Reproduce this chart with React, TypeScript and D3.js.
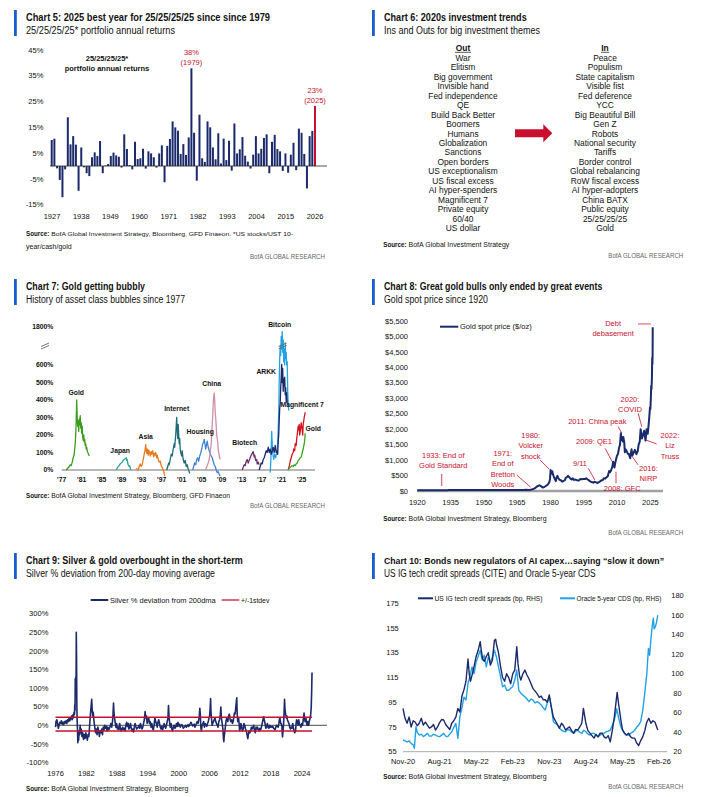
import * as d3 from "d3";

type Pt = [number, number];

const FONT = "'Liberation Sans Narrow', 'Arial Narrow', 'Liberation Sans', Arial, sans-serif";
const NAVY = "#1b2a6b";
const RED = "#c8102e";
const ACCENT = "#1a5dd0";
const SKY = "#22a2e4";
const INK = "#111";

// ---------- Chart 5: 25/25/25/25 annual returns ----------
const c5Years = d3.range(1927, 2026);
const c5Returns = [
  10.1, 10.6, -0.9, -5.4, -12.1, -1.3, 18.9, 8.4, 11.6, 8.3,
  -9.6, 7.2, -0.5, -2.8, -3.9, 3.4, 5.3, 3.9, 9.7, -2.8,
  0.2, 0.8, 3.9, 5.2, 4.1, 3.6, -0.6, 12.3, 6.6, 0.4,
  -1.3, 9.4, 2.7, 3.0, 6.7, -1.0, 5.7, 4.9, 3.4, -0.6,
  4.9, 8.0, -6.3, 7.8, 10.5, 17.3, 15.0, 13.7, 4.7, 8.5,
  4.3, 11.1, 37.9, 12.9, -5.7, 19.9, 3.0, 1.6, 17.3, 15.0,
  7.2, 2.6, 12.7, 1.0, 10.6, 2.3, 9.8, -1.8, 16.5, 4.9,
  6.5, 11.2, 4.0, 1.7, -1.0, 4.4, 11.6, 4.9, 6.7, 10.9,
  12.3, -2.8, 9.4, 12.1, 6.6, 5.7, -1.9, 4.9, -2.6, 4.4,
  9.0, -1.6, 14.5, 12.9, 4.7, -8.7, 11.6, 13.6, 23.3,
];
const c5YTicks = [45, 35, 25, 15, 5, -5, -15];
const c5XTicks = [1927, 1938, 1949, 1960, 1971, 1982, 1993, 2004, 2015, 2026];

// ---------- Chart 6: ins and outs ----------
const c6Out = [
  "War", "Elitism", "Big government", "Invisible hand", "Fed independence", "QE",
  "Build Back Better", "Boomers", "Humans", "Globalization", "Sanctions", "Open borders",
  "US exceptionalism", "US fiscal excess", "AI hyper-spenders", "Magnificent 7",
  "Private equity", "60/40", "US dollar",
];
const c6In = [
  "Peace", "Populism", "State capitalism", "Visible fist", "Fed deference", "YCC",
  "Big Beautiful Bill", "Gen Z", "Robots", "National security", "Tariffs", "Border control",
  "Global rebalancing", "RoW fiscal excess", "AI hyper-adopters", "China BATX",
  "Public equity", "25/25/25/25", "Gold",
];

// ---------- Chart 7: bubbles ----------
const c7Gold80: Pt[] = [[1977.9,0],[1978.2,10],[1978.5,20],[1978.7,30],[1978.9,25],[1979.1,45],[1979.3,70],[1979.5,90],[1979.6,120],[1979.7,150],[1979.8,200],[1979.9,280],[1980.0,400],[1980.1,300],[1980.2,250],[1980.3,280],[1980.4,220],[1980.5,290],[1980.6,260],[1980.7,310],[1980.8,240],[1980.9,270],[1981.0,210],[1981.1,250],[1981.2,190],[1981.3,170],[1981.4,200],[1981.5,160],[1981.6,175],[1981.7,140],[1981.8,150],[1981.9,120],[1982.0,130],[1982.1,110],[1982.3,95],[1982.5,80]];
const c7Japan: Pt[] = [[1987.9,0],[1988.1,10],[1988.3,20],[1988.5,25],[1988.7,35],[1988.9,40],[1989.1,45],[1989.3,55],[1989.5,60],[1989.7,65],[1989.9,70],[1990.0,55],[1990.1,60],[1990.2,40],[1990.3,30],[1990.5,20],[1990.6,25],[1990.8,0]];
const c7Asia: Pt[] = [[1991.9,10],[1992.1,5],[1992.3,0],[1992.5,20],[1992.7,35],[1992.9,20],[1993.1,30],[1993.3,60],[1993.5,90],[1993.7,120],[1993.8,145],[1993.9,110],[1994.0,95],[1994.1,120],[1994.3,85],[1994.4,115],[1994.6,100],[1994.7,80],[1994.9,105],[1995.0,90],[1995.2,110],[1995.4,75],[1995.5,95],[1995.7,85],[1995.8,100],[1996.0,70],[1996.1,85],[1996.3,60],[1996.5,45],[1996.7,50],[1996.9,25],[1997.1,15],[1997.3,0],[1997.5,-20],[1997.6,-35]];
const c7Internet: Pt[] = [[1998.0,0],[1998.2,20],[1998.4,40],[1998.5,30],[1998.7,60],[1998.9,90],[1999.1,80],[1999.3,120],[1999.5,150],[1999.6,130],[1999.8,200],[2000.0,300],[2000.1,230],[2000.2,180],[2000.3,260],[2000.4,200],[2000.5,150],[2000.6,180],[2000.7,120],[2000.8,100],[2001.0,80],[2001.1,110],[2001.3,60],[2001.5,40],[2001.7,55],[2001.9,20],[2002.1,30],[2002.3,5],[2002.5,-10],[2002.6,-20]];
const c7Housing: Pt[] = [[2003.2,0],[2003.4,20],[2003.6,40],[2003.8,30],[2004.0,60],[2004.2,70],[2004.4,50],[2004.6,80],[2004.8,95],[2005.0,120],[2005.2,150],[2005.4,160],[2005.5,175],[2005.7,140],[2005.8,120],[2006.0,150],[2006.1,165],[2006.3,130],[2006.5,110],[2006.7,95],[2006.9,80],[2007.1,70],[2007.3,50],[2007.5,30],[2007.7,20],[2007.9,0],[2008.1,-15],[2008.3,-10],[2008.5,-25],[2008.7,-35]];
const c7China: Pt[] = [[2005.7,0],[2005.9,10],[2006.1,25],[2006.3,40],[2006.5,60],[2006.7,100],[2006.9,150],[2007.0,200],[2007.1,260],[2007.2,300],[2007.3,380],[2007.4,420],[2007.5,440],[2007.6,400],[2007.7,330],[2007.8,300],[2007.9,250],[2008.0,200],[2008.2,160],[2008.3,120],[2008.5,80],[2008.7,60]];
const c7Biotech: Pt[] = [[2013.1,0],[2013.3,15],[2013.5,30],[2013.7,25],[2013.9,50],[2014.1,60],[2014.3,40],[2014.5,55],[2014.7,70],[2014.9,85],[2015.1,95],[2015.3,105],[2015.5,75],[2015.6,85],[2015.8,55],[2016.0,60],[2016.1,35],[2016.3,45],[2016.5,30]];
const c7Arkk: Pt[] = [[2016.5,0],[2016.7,20],[2016.9,40],[2017.1,35],[2017.3,60],[2017.5,70],[2017.7,90],[2017.9,110],[2018.1,100],[2018.3,130],[2018.5,100],[2018.7,120],[2018.9,90],[2019.1,110],[2019.3,130],[2019.5,100],[2019.7,140],[2019.9,100],[2020.1,110],[2020.2,90],[2020.3,160],[2020.4,200],[2020.5,280],[2020.6,350],[2020.7,380],[2020.8,470],[2020.9,530],[2021.0,620],[2021.1,500],[2021.2,580],[2021.3,450],[2021.4,520],[2021.5,480],[2021.6,530],[2021.7,430],[2021.8,470],[2021.9,390],[2022.0,440],[2022.1,380]];
const c7Bitcoin: Pt[] = [[2018.7,-15],[2018.8,40],[2018.9,120],[2019.0,220],[2019.1,150],[2019.2,100],[2019.4,60],[2019.6,90],[2019.8,70],[2020.0,100],[2020.2,150],[2020.4,320],[2020.5,500],[2020.6,800],[2020.7,1200],[2020.8,900],[2020.9,1500],[2021.0,1100],[2021.1,1650],[2021.2,1000],[2021.3,1400],[2021.4,700],[2021.5,1100],[2021.6,600],[2021.7,1300],[2021.8,800],[2021.9,1000],[2022.0,600],[2022.1,700],[2022.2,450],[2022.3,380],[2022.4,340]];
const c7Mag7: Pt[] = [[2022.3,0],[2022.5,20],[2022.7,50],[2022.8,60],[2023.0,80],[2023.1,90],[2023.3,100],[2023.4,120],[2023.6,110],[2023.7,150],[2023.9,140],[2024.0,180],[2024.1,200],[2024.3,250],[2024.4,230],[2024.5,260],[2024.6,200],[2024.7,220],[2024.9,270],[2025.0,250],[2025.1,230],[2025.2,200],[2025.3,260],[2025.5,300],[2025.7,330]];
const c7Gold25: Pt[] = [[2022.3,0],[2022.5,10],[2022.7,15],[2022.9,20],[2023.1,25],[2023.3,20],[2023.5,30],[2023.7,25],[2023.9,35],[2024.1,40],[2024.3,55],[2024.5,60],[2024.7,70],[2024.9,75],[2025.0,85],[2025.2,110],[2025.3,120],[2025.5,150],[2025.6,170],[2025.7,210]];
const c7YTicks = [0, 100, 200, 300, 400, 500, 600, 1800];
const c7XTicks = [1977, 1981, 1985, 1989, 1993, 1997, 2001, 2005, 2009, 2013, 2017, 2021, 2025];

// ---------- Chart 8: gold spot ----------
const c8Gold: Pt[] = [[1920,20.7],[1933.5,20.7],[1934.1,35],[1968,35],[1969,41],[1970,36],[1971,40],[1972,55],[1973,90],[1973.5,120],[1974,150],[1974.9,185],[1975.5,165],[1976.6,110],[1977.5,145],[1978.5,190],[1979,230],[1979.5,290],[1979.8,400],[1980.05,680],[1980.2,550],[1980.5,620],[1980.8,640],[1981,560],[1981.4,480],[1981.8,410],[1982.4,320],[1982.7,430],[1983.1,490],[1983.5,420],[1984,370],[1984.8,340],[1985.2,300],[1985.9,330],[1986.5,350],[1986.8,420],[1987.4,450],[1987.9,490],[1988.5,440],[1989,400],[1989.5,370],[1990,410],[1990.5,360],[1991,370],[1991.5,360],[1992,350],[1992.7,340],[1993.5,390],[1994,380],[1994.8,390],[1995.5,385],[1996.1,410],[1996.6,380],[1997.2,350],[1997.7,320],[1998.5,290],[1999.3,270],[1999.8,300],[2000.5,280],[2001.2,260],[2001.8,285],[2002.5,320],[2003,350],[2003.5,350],[2004,410],[2004.6,400],[2005,430],[2005.8,480],[2006.4,650],[2006.8,610],[2007.3,670],[2007.9,800],[2008.2,950],[2008.8,760],[2009.2,920],[2009.9,1130],[2010.4,1200],[2010.9,1400],[2011.3,1500],[2011.7,1870],[2011.9,1650],[2012.2,1750],[2012.6,1600],[2012.8,1750],[2013.2,1580],[2013.5,1250],[2013.8,1350],[2014.2,1300],[2014.9,1200],[2015.3,1200],[2015.9,1060],[2016.5,1350],[2016.9,1150],[2017.5,1250],[2018,1330],[2018.7,1190],[2019.3,1290],[2019.7,1500],[2020.2,1600],[2020.6,2000],[2020.9,1850],[2021.2,1700],[2021.6,1800],[2022.2,1950],[2022.8,1630],[2023.3,2000],[2023.8,1850],[2024.2,2150],[2024.5,2400],[2024.8,2700],[2025.0,2650],[2025.25,3100],[2025.35,3400],[2025.5,3300],[2025.7,3700],[2025.8,4300],[2025.9,4100],[2026.0,4400],[2026.05,5300]];
const c8YTicks = d3.range(0, 5501, 500);
const c8XTicks = [1920, 1935, 1950, 1965, 1980, 1995, 2010, 2025];

// ---------- Chart 9: silver deviation from 200dma ----------
const c9Silver: Pt[] = [[1976.0,-5],[1976.1,10],[1976.25,15],[1976.4,5],[1976.55,-8],[1976.7,0],[1976.85,8],[1977.0,5],[1977.15,12],[1977.3,3],[1977.45,8],[1977.6,2],[1977.75,10],[1977.9,6],[1978.05,12],[1978.2,5],[1978.35,15],[1978.5,10],[1978.65,20],[1978.8,12],[1978.95,18],[1979.1,25],[1979.25,15],[1979.4,28],[1979.5,20],[1979.6,35],[1979.7,30],[1979.75,55],[1979.8,40],[1979.85,125],[1979.9,80],[1979.95,130],[1980.0,90],[1980.05,250],[1980.1,180],[1980.15,60],[1980.2,20],[1980.28,-10],[1980.35,-47],[1980.4,-30],[1980.5,-40],[1980.6,-15],[1980.7,-25],[1980.8,0],[1980.9,-20],[1981.0,-10],[1981.15,-30],[1981.3,-20],[1981.45,-38],[1981.6,-25],[1981.75,-35],[1981.9,-20],[1982.05,-30],[1982.2,-40],[1982.35,-25],[1982.5,-30],[1982.65,0],[1982.8,30],[1982.9,45],[1983.05,70],[1983.15,40],[1983.25,25],[1983.35,35],[1983.5,10],[1983.65,-5],[1983.8,-20],[1983.95,-10],[1984.1,-25],[1984.25,-5],[1984.4,-15],[1984.55,-30],[1984.7,-15],[1984.85,-20],[1985.0,-10],[1985.15,-25],[1985.3,-5],[1985.45,-12],[1985.6,0],[1985.75,-8],[1985.9,-3],[1986.05,-15],[1986.2,-5],[1986.35,-12],[1986.5,-8],[1986.65,-2],[1986.8,5],[1986.95,-5],[1987.1,10],[1987.2,30],[1987.3,60],[1987.38,35],[1987.5,20],[1987.6,10],[1987.75,-5],[1987.9,5],[1988.05,-10],[1988.2,-5],[1988.35,-12],[1988.5,5],[1988.65,-8],[1988.8,-15],[1988.95,-10],[1989.1,-5],[1989.25,-12],[1989.4,-8],[1989.55,-15],[1989.7,0],[1989.85,8],[1990.0,-3],[1990.15,5],[1990.3,-10],[1990.45,-5],[1990.6,5],[1990.75,-8],[1990.9,-15],[1991.05,-10],[1991.2,-18],[1991.35,-5],[1991.5,5],[1991.65,-3],[1991.8,-10],[1991.95,-8],[1992.1,-5],[1992.25,0],[1992.4,-8],[1992.55,5],[1992.7,-3],[1992.85,-10],[1993.0,-5],[1993.15,5],[1993.3,15],[1993.45,37],[1993.55,20],[1993.7,25],[1993.85,5],[1994.0,15],[1994.15,20],[1994.3,5],[1994.45,10],[1994.6,-5],[1994.75,5],[1994.9,-8],[1995.05,-12],[1995.2,0],[1995.35,20],[1995.5,10],[1995.65,5],[1995.8,-5],[1995.95,8],[1996.1,15],[1996.25,5],[1996.4,-5],[1996.55,-10],[1996.7,-3],[1996.85,-12],[1997.0,-5],[1997.15,5],[1997.3,-3],[1997.45,-8],[1997.6,0],[1997.75,10],[1997.9,20],[1998.0,53],[1998.08,30],[1998.2,10],[1998.35,-5],[1998.5,5],[1998.65,-10],[1998.8,-15],[1998.95,-5],[1999.1,0],[1999.25,-8],[1999.4,-5],[1999.55,5],[1999.7,-3],[1999.85,8],[2000.0,-2],[2000.15,3],[2000.3,-5],[2000.45,0],[2000.6,2],[2000.75,-3],[2000.9,-8],[2001.05,-5],[2001.2,-3],[2001.35,0],[2001.5,-5],[2001.65,-2],[2001.8,2],[2001.95,-3],[2002.1,0],[2002.25,5],[2002.4,8],[2002.55,3],[2002.7,-2],[2002.85,0],[2003.0,3],[2003.15,-5],[2003.3,0],[2003.45,5],[2003.6,10],[2003.75,5],[2003.9,15],[2004.0,25],[2004.1,46],[2004.2,30],[2004.3,-5],[2004.4,-15],[2004.55,0],[2004.7,5],[2004.85,10],[2005.0,-5],[2005.15,5],[2005.3,0],[2005.45,-3],[2005.6,5],[2005.75,10],[2005.9,20],[2006.0,25],[2006.1,40],[2006.2,72],[2006.28,35],[2006.4,15],[2006.5,0],[2006.6,5],[2006.75,10],[2006.9,15],[2007.05,20],[2007.2,10],[2007.35,5],[2007.5,0],[2007.65,-5],[2007.8,10],[2007.95,15],[2008.1,30],[2008.2,49],[2008.3,20],[2008.45,5],[2008.6,-10],[2008.7,-35],[2008.78,-44],[2008.85,-30],[2008.95,-20],[2009.1,0],[2009.25,15],[2009.4,20],[2009.55,10],[2009.7,25],[2009.85,30],[2010.0,15],[2010.15,10],[2010.3,15],[2010.45,5],[2010.6,10],[2010.75,25],[2010.85,33],[2010.95,30],[2011.05,40],[2011.15,55],[2011.3,74],[2011.38,30],[2011.5,10],[2011.65,20],[2011.75,5],[2011.85,-15],[2011.95,-10],[2012.1,5],[2012.25,-5],[2012.4,-15],[2012.55,-10],[2012.7,5],[2012.85,0],[2013.0,-10],[2013.15,-15],[2013.3,-25],[2013.45,-36],[2013.55,-25],[2013.7,-15],[2013.85,-20],[2014.0,-15],[2014.15,-5],[2014.3,-10],[2014.45,-5],[2014.6,0],[2014.75,-15],[2014.9,-20],[2015.05,-5],[2015.2,-10],[2015.35,-5],[2015.5,-12],[2015.65,-15],[2015.8,-8],[2015.95,-12],[2016.1,-5],[2016.25,5],[2016.4,15],[2016.55,23],[2016.65,15],[2016.8,5],[2016.95,-8],[2017.1,-5],[2017.25,5],[2017.4,-5],[2017.55,-8],[2017.7,0],[2017.85,-5],[2018.0,-3],[2018.15,-5],[2018.3,-3],[2018.45,-8],[2018.6,-10],[2018.75,-12],[2018.9,-5],[2019.05,0],[2019.2,-3],[2019.35,-5],[2019.5,5],[2019.6,15],[2019.7,20],[2019.85,5],[2020.0,3],[2020.1,-5],[2020.2,-31],[2020.28,-20],[2020.4,0],[2020.5,30],[2020.6,70],[2020.68,45],[2020.8,30],[2020.95,20],[2021.05,25],[2021.15,15],[2021.3,10],[2021.45,5],[2021.6,-5],[2021.75,-10],[2021.9,-5],[2022.05,-8],[2022.2,5],[2022.3,-5],[2022.45,-15],[2022.6,-20],[2022.75,-15],[2022.85,5],[2022.95,15],[2023.1,10],[2023.25,0],[2023.35,15],[2023.5,5],[2023.65,0],[2023.8,-5],[2023.95,5],[2024.1,0],[2024.25,15],[2024.4,33],[2024.5,20],[2024.6,10],[2024.75,20],[2024.9,5],[2025.0,0],[2025.1,10],[2025.2,5],[2025.3,0],[2025.4,10],[2025.5,15],[2025.6,20],[2025.7,30],[2025.8,50],[2025.88,90],[2025.95,142]];
const c9Bands = [21.5, -15.3];
const c9YTicks = [300, 250, 200, 150, 100, 50, 0, -50, -100];
const c9XTicks = [1976, 1982, 1988, 1994, 2000, 2006, 2012, 2018, 2024];

// ---------- Chart 10: IG tech spreads & Oracle CDS (x = months since Nov-20) ----------
const c10Tech: Pt[] = [[0,90],[0.5,82],[1,78],[1.5,83],[2,75],[2.5,80],[3,79],[3.5,76],[4,78],[4.5,82],[5,76.5],[5.5,79],[6,76.5],[6.5,74],[7,75],[7.5,77],[8,72.5],[8.5,75],[9,78.5],[9.5,81],[10,80.6],[10.5,77],[11,75],[11.5,73],[12,78],[12.5,80],[13,83],[13.5,90],[14,87],[14.5,100],[15,105],[15.5,112],[16,130],[16.3,118],[16.6,112],[17,117],[17.5,124],[18,132],[18.5,137],[19,144],[19.3,136],[19.6,130],[20,128],[20.5,132],[21,135],[21.5,125],[22,129],[22.5,145],[22.8,146],[23,142],[23.5,135],[24,124],[24.5,115],[25,112],[25.5,118],[26,115],[26.5,110],[27,118],[27.5,121],[28,140],[28.3,126],[28.7,116],[29,113],[29.5,118],[30,121],[30.5,117],[31,114],[31.5,110],[32,106],[32.5,104],[33,102],[33.5,99],[34,100],[34.5,97],[35,97],[35.5,95],[36,101],[36.5,91],[37,83],[37.5,80],[38,77],[38.5,74],[39,78],[39.5,76],[40,72.5],[40.5,74],[41,75],[41.5,72],[42,70],[42.5,73],[43,72.5],[43.5,75],[44,78],[44.4,90],[44.8,82],[45,78],[45.5,72],[46,70],[46.5,68],[47,66],[47.5,69],[48,67],[48.5,70],[49,70],[49.5,67],[50,66],[50.5,68],[51,63],[51.5,72],[52,83],[52.7,103],[53,95],[53.3,88],[53.6,81],[54,73],[54.5,70],[55,68.5],[55.5,70],[56,67],[56.5,66],[57,66],[57.5,62],[58,60],[58.5,64],[59,67],[59.5,72],[60,79],[60.5,82],[61,78],[61.5,80],[62,79],[62.7,72.5]];
const c10Oracle: Pt[] = [[0,32],[0.5,31],[1,30],[1.5,31],[2,28.5],[2.5,27],[2.8,23.5],[3,35],[3.2,45.6],[3.5,40],[4,37],[4.5,38],[5,35.5],[5.5,37],[6,38.8],[6.5,36],[7,36],[7.5,38],[8,37],[8.5,36],[9,35.4],[9.5,37],[10,38.8],[10.5,36],[11,35.4],[11.5,38],[12,40.5],[12.5,45],[13,49],[13.5,33.7],[14,56],[14.5,65],[15,76],[15.5,73],[16,90],[16.5,98],[17,107],[17.5,100],[18,112],[18.5,118],[19,124],[19.5,114],[20,119],[20.5,107],[21,117],[21.5,112],[22,117],[22.5,124],[23,117],[23.5,107],[24,97],[24.5,86.7],[25,88.4],[25.5,83],[26,83],[26.5,85],[27,86.7],[27.5,93.5],[28,103.8],[28.5,83],[29,80],[29.5,78],[30,76.4],[30.5,74],[31,71.3],[31.5,74],[32,73],[32.5,70],[33,71.3],[33.5,70],[34,68],[34.5,65],[35,62.7],[35.5,70],[36,76.4],[36.5,66],[37,50.8],[37.5,49],[38,47.4],[38.5,44],[39,42],[39.5,41],[40,40.5],[40.5,43],[41,42],[41.5,40],[42,38.8],[42.5,41],[43,42],[43.5,40],[44,38.8],[44.5,42],[45,40.5],[45.5,38],[46,37],[46.5,39],[47,38.8],[47.5,37],[48,35.4],[48.5,37],[49,38.8],[49.5,39],[50,40.5],[50.5,41],[51,42],[51.5,47],[52,52.5],[52.6,64],[53,56],[53.5,47],[54,42],[54.5,39],[55,37],[55.5,37],[56,38.8],[56.5,40],[57,42],[57.5,45],[58,47.4],[58.5,50.8],[59,62.7],[59.5,80],[60,100],[60.4,126],[60.7,119],[61,135],[61.3,148],[61.6,157],[61.8,146],[62.1,148],[62.4,153],[62.7,160]];
const c10LeftTicks = [175, 155, 135, 115, 95, 75, 55];
const c10RightTicks = [180, 160, 140, 120, 100, 80, 60, 40, 20];
const c10XLabels = ["Nov-20", "Aug-21", "May-22", "Feb-23", "Nov-23", "Aug-24", "May-25", "Feb-26"];

function Header({ x, y, title, sub, tl, sl, fs = 10.5 }: { x: number; y: number; title: string; sub: string; tl: number; sl: number; fs?: number }) {
  return (
    <g>
      <rect x={x} y={y} width={2.8} height={26} fill={ACCENT} />
      <text x={x + 12} y={y + 10.5} fontSize={fs} fontWeight="bold" fill={INK} textLength={tl} lengthAdjust="spacingAndGlyphs">{title}</text>
      <text x={x + 12} y={y + 24} fontSize={10} fill={INK} textLength={sl} lengthAdjust="spacingAndGlyphs">{sub}</text>
    </g>
  );
}

// "Source:" label in bold, then the rest of the line as its own text
function Source({ x, y, text, tl, fs = 6.5 }: { x: number; y: number; text: string; tl: number; fs?: number }) {
  return (
    <g fill={INK}>
      <text x={x} y={y} fontSize={6.6} fontWeight="bold" textLength={23.3} lengthAdjust="spacingAndGlyphs">Source:</text>
      <text x={x + 25.3} y={y} fontSize={fs} textLength={tl - 25.3} lengthAdjust="spacingAndGlyphs">{text}</text>
    </g>
  );
}

function Brand({ x, y }: { x: number; y: number }) {
  return <text x={x} y={y} fontSize={7.5} fill="#666" textAnchor="end" textLength={75} lengthAdjust="spacingAndGlyphs">BofA GLOBAL RESEARCH</text>;
}

function Chart5() {
  const x = d3.scaleLinear().domain([1927, 2025]).range([51.7, 315]);
  const xl = d3.scaleLinear().domain([1927, 2026]).range([52, 315]);
  const y = d3.scaleLinear().domain([-15, 45]).range([204.7, 50]);
  const bw = 2;
  return (
    <g>
      <Header x={14} y={10} title="Chart 5: 2025 best year for 25/25/25/25 since since 1979" sub="25/25/25/25* portfolio annual returns" tl={244} sl={149} />
      {c5YTicks.map((t) => (
        <text key={t} x={43.3} y={y(t) + 2.6} fontSize={7.5} textAnchor="end" fill={INK}>{t}%</text>
      ))}
      {c5Returns.map((v, i) => (
        <rect key={i} x={x(c5Years[i]) - bw / 2} y={Math.min(y(v), y(0))} width={bw} height={Math.abs(y(v) - y(0))} fill={c5Years[i] === 2025 ? RED : NAVY} />
      ))}
      <line x1={50} x2={327} y1={y(0)} y2={y(0)} stroke="#222" strokeWidth={0.8} />
      {c5XTicks.map((t) => (
        <text key={t} x={xl(t)} y={218.5} fontSize={7.5} textAnchor="middle" fill={INK}>{t}</text>
      ))}
      <text x={107} y={61} fontSize={7.5} fontWeight="bold" textAnchor="middle" fill={INK}>25/25/25/25*</text>
      <text x={107} y={71} fontSize={7.5} fontWeight="bold" textAnchor="middle" fill={INK}>portfolio annual returns</text>
      <text x={x(1979)} y={y(38) - 13} fontSize={7.5} textAnchor="middle" fill={RED}>38%</text>
      <text x={x(1979)} y={y(38) - 3} fontSize={7.5} textAnchor="middle" fill={RED}>(1979)</text>
      <text x={x(2025)} y={y(23.3) - 13} fontSize={7.5} textAnchor="middle" fill={RED}>23%</text>
      <text x={x(2025)} y={y(23.3) - 3} fontSize={7.5} textAnchor="middle" fill={RED}>(2025)</text>
      <Source x={26} y={236} tl={267} fs={6.2} text="BofA Global Investment Strategy, Bloomberg, GFD Finaeon. *US stocks/UST 10-" />
      <text x={26} y={248.5} fontSize={7} fill={INK} textLength={45.7} lengthAdjust="spacingAndGlyphs">year/cash/gold</text>
      <Brand x={325} y={258.5} />
    </g>
  );
}

function Chart6() {
  const row = d3.scaleLinear().domain([0, 18]).range([58, 228]);
  const outX = 463;
  const inX = 605;
  const fs = 8.4;
  return (
    <g>
      <Header x={372} y={10} title="Chart 6: 2020s investment trends" sub="Ins and Outs for big investment themes" tl={142.7} sl={156} />
      <text x={outX} y={50.9} fontSize={fs} fontWeight="bold" textAnchor="middle" fill={INK}>Out</text>
      <line x1={outX - 8} x2={outX + 8} y1={52.3} y2={52.3} stroke={INK} strokeWidth={0.7} />
      <text x={inX} y={50.9} fontSize={fs} fontWeight="bold" textAnchor="middle" fill={INK}>In</text>
      <line x1={inX - 4} x2={inX + 4} y1={52.3} y2={52.3} stroke={INK} strokeWidth={0.7} />
      {c6Out.map((t, i) => (
        <text key={t} x={outX} y={row(i) + 3} fontSize={fs} textAnchor="middle" fill={INK}>{t}</text>
      ))}
      {c6In.map((t, i) => (
        <text key={t} x={inX} y={row(i) + 3} fontSize={fs} textAnchor="middle" fill={INK}>{t}</text>
      ))}
      <path d="M515,129.3 H543.3 V124.3 L552.3,133.3 L543.3,142.3 V137.3 H515 Z" fill={RED} />
      <Source x={383.3} y={246.7} tl={126} text="BofA Global Investment Strategy" />
      <Brand x={683.3} y={258} />
    </g>
  );
}

function Chart7() {
  const x = d3.scaleLinear().domain([1977, 2025]).range([61.7, 301.7]);
  const y = d3.scaleLinear().domain([0, 600, 1800]).range([470, 365, 327]);
  const line = d3.line<Pt>().x((d) => x(d[0])).y((d) => y(d[1]));
  const series: { data: Pt[]; color: string }[] = [
    { data: c7Gold80, color: "#3a9b1d" },
    { data: c7Japan, color: "#2fa394" },
    { data: c7Asia, color: "#e9791c" },
    { data: c7Internet, color: "#1d6c78" },
    { data: c7Housing, color: "#4080d4" },
    { data: c7China, color: "#cf8fa6" },
    { data: c7Biotech, color: "#6b2a6b" },
    { data: c7Bitcoin, color: SKY },
    { data: c7Arkk, color: NAVY },
    { data: c7Mag7, color: "#d4121d" },
    { data: c7Gold25, color: "#3aa31d" },
  ];
  const labels: [string, number, number][] = [
    ["Gold", 1979.9, 430], ["Japan", 1988.7, 100], ["Asia", 1993.8, 175],
    ["Internet", 2000.0, 335], ["Housing", 2004.7, 205], ["China", 2007.0, 480],
    ["Biotech", 2013.6, 145], ["ARKK", 2017.9, 548], ["Bitcoin", 2020.6, 1790],
    ["Magnificent 7", 2025.1, 360], ["Gold", 2027.3, 225],
  ];
  const brk = (cx: number, cy: number) => (
    <g stroke="#666" strokeWidth={0.9}>
      <line x1={cx - 4} x2={cx + 4} y1={cy + 0.5} y2={cy - 3} />
      <line x1={cx - 4} x2={cx + 4} y1={cy + 3} y2={cy - 0.5} />
    </g>
  );
  return (
    <g>
      <Header x={14} y={279} title="Chart 7: Gold getting bubbly" sub="History of asset class bubbles since 1977" tl={119} sl={159} />
      {c7YTicks.map((t) => (
        <text key={t} x={53.3} y={y(t) + 2.4} fontSize={6.8} fontWeight="bold" textAnchor="end" fill={INK}>{t}%</text>
      ))}
      {brk(45, 346)}
      <line x1={61.7} x2={315} y1={y(0)} y2={y(0)} stroke="#a0a0a0" strokeWidth={1.6} />
      {series.map((s, i) => (
        <path key={i} d={line(s.data) ?? ""} fill="none" stroke={s.color} strokeWidth={1.3} strokeLinejoin="round" />
      ))}
      <g fill="#fff">{brk(x(2021.2), 346)}</g>
      {c7XTicks.map((t) => (
        <text key={t} x={x(t)} y={482} fontSize={6.8} fontWeight="bold" textAnchor="middle" fill={INK}>{"'" + String(t).slice(2)}</text>
      ))}
      {labels.map(([t, lx, ly], i) => (
        <text key={i} x={x(lx)} y={y(ly)} fontSize={6.8} fontWeight="bold" textAnchor="middle" fill={INK}>{t}</text>
      ))}
      <Source x={26} y={497.7} tl={204} fs={6.3} text="BofA Global Investment Strategy, Bloomberg, GFD Finaeon" />
      <Brand x={325} y={507.7} />
    </g>
  );
}

function Chart8() {
  const x = d3.scaleLinear().domain([1920, 2025]).range([417.3, 650.4]);
  const y = d3.scaleLinear().domain([0, 5500]).range([491, 321]);
  const line = d3.line<Pt>().x((d) => x(d[0])).y((d) => y(d[1]));
  const notes: { lines: string[]; at: Pt }[] = [
    { lines: ["1933: End of", "Gold Standard"], at: [1931.7, 1165] },
    { lines: ["1971:", "End of", "Bretton", "Woods"], at: [1958.5, 1220] },
    { lines: ["1980:", "Volcker", "shock"], at: [1971.1, 1812] },
    { lines: ["9/11"], at: [1993.3, 896] },
    { lines: ["2009: QE1"], at: [1999.6, 1595] },
    { lines: ["2011: China peak"], at: [2001.1, 2243] },
    { lines: ["2020:", "COVID"], at: [2015.8, 2968] },
    { lines: ["2016:", "NIRP"], at: [2024.1, 735] },
    { lines: ["2022:", "Liz", "Truss"], at: [2033.8, 1812] },
    { lines: ["2008: GFC"], at: [2012.3, 87] },
    { lines: ["Debt", "debasement"], at: [2008.2, 5437] },
  ];
  const leaders: [Pt, Pt][] = [
    [[1931, 550], [1931, 162]],
    [[1964.8, 518], [1971.1, 120]],
    [[1975.3, 1003], [1979.5, 702]],
    [[1997.0, 735], [2000.0, 356]],
    [[2004.6, 1382], [2007.8, 948]],
    [[2009.5, 625], [2009.5, 249]],
    [[2010.5, 2081], [2012.1, 1867]],
    [[2019.5, 2515], [2021.1, 2081]],
    [[2015.8, 1220], [2019.5, 841]],
    [[2023.0, 1650], [2027.8, 1521]],
  ];
  return (
    <g>
      <Header x={372} y={279} title="Chart 8: Great gold bulls only ended by great events" sub="Gold spot price since 1920" tl={218.3} sl={104} />
      {c8YTicks.map((t) => (
        <text key={t} x={408} y={y(t) + 2.6} fontSize={7.5} textAnchor="end" fill={INK}>{d3.format("$,")(t)}</text>
      ))}
      <line x1={417} x2={663} y1={y(0)} y2={y(0)} stroke="#a0a0a0" strokeWidth={2.5} />
      {c8XTicks.map((t) => (
        <text key={t} x={x(t)} y={505} fontSize={7.5} textAnchor="middle" fill={INK}>{t}</text>
      ))}
      {leaders.map(([a, b], i) => (
        <line key={i} x1={x(a[0])} y1={y(a[1])} x2={x(b[0])} y2={y(b[1])} stroke={RED} strokeWidth={0.8} />
      ))}
      <line x1={x(2019.4)} x2={x(2025.2)} y1={y(5405)} y2={y(5405)} stroke="#e58c9a" strokeWidth={1.5} />
      <path d={line(c8Gold) ?? ""} fill="none" stroke={NAVY} strokeWidth={2} strokeLinejoin="round" />
      {notes.map((n, i) => (
        <text key={i} x={x(n.at[0])} y={y(n.at[1]) + 2.7} fontSize={7.5} textAnchor="middle" fill={RED}>
          {n.lines.map((l, j) => (
            <tspan key={j} x={x(n.at[0])} dy={j === 0 ? 0 : 10.5}>{l}</tspan>
          ))}
        </text>
      ))}
      <line x1={440} x2={458.3} y1={326.7} y2={326.7} stroke={NAVY} strokeWidth={2} />
      <text x={460} y={329.3} fontSize={7.2} fill={INK} textLength={71.7} lengthAdjust="spacingAndGlyphs">Gold spot price ($/oz)</text>
      <Source x={383.3} y={520.5} tl={163.3} text="BofA Global Investment Strategy, Bloomberg" />
      <Brand x={683.3} y={534.5} />
    </g>
  );
}

function Chart9() {
  const x = d3.scaleLinear().domain([1976, 2024]).range([55.5, 302]);
  const y = d3.scaleLinear().domain([-100, 300]).range([762.5, 613.7]);
  const line = d3.line<Pt>().x((d) => x(d[0])).y((d) => y(d[1]));
  return (
    <g>
      <Header x={14} y={553} title="Chart 9: Silver & gold overbought in the short-term" sub="Silver % deviation from 200-day moving average" tl={216.7} sl={189} />
      <line x1={90.7} x2={108.3} y1={600} y2={600} stroke={NAVY} strokeWidth={2} />
      <text x={110} y={602.6} fontSize={7.3} fill={INK} textLength={105.7} lengthAdjust="spacingAndGlyphs">Silver % deviation from 200dma</text>
      <line x1={221.7} x2={239.3} y1={600} y2={600} stroke="#e0677d" strokeWidth={2} />
      <text x={241} y={602.6} fontSize={7.3} fill={INK} textLength={28.3} lengthAdjust="spacingAndGlyphs">+/-1stdev</text>
      {c9YTicks.map((t) => (
        <text key={t} x={48.3} y={y(t) + 2.6} fontSize={7.5} textAnchor="end" fill={INK}>{t}%</text>
      ))}
      <line x1={55} x2={327} y1={y(0)} y2={y(0)} stroke="#222" strokeWidth={0.8} />
      <path d={line(c9Silver) ?? ""} fill="none" stroke={NAVY} strokeWidth={1.6} strokeLinejoin="round" />
      {c9Bands.map((b) => (
        <line key={b} x1={x(1976)} x2={x(2025.95)} y1={y(b)} y2={y(b)} stroke={RED} strokeWidth={1.5} />
      ))}
      {c9XTicks.map((t) => (
        <text key={t} x={x(t)} y={775.6} fontSize={7.5} textAnchor="middle" fill={INK}>{t}</text>
      ))}
      <Source x={26} y={790.7} tl={162.3} text="BofA Global Investment Strategy, Bloomberg" />
    </g>
  );
}

function Chart10() {
  const x = d3.scaleLinear().domain([0, 63]).range([403, 659]);
  const yl = d3.scaleLinear().domain([55, 175]).range([751.7, 603.3]);
  const yr = d3.scaleLinear().domain([20, 180]).range([751.7, 595.7]);
  const lineL = d3.line<Pt>().x((d) => x(d[0])).y((d) => yl(d[1]));
  const lineR = d3.line<Pt>().x((d) => x(d[0])).y((d) => yr(d[1]));
  return (
    <g>
      <Header x={372} y={553} fs={9} title="Chart 10: Bonds new regulators of AI capex…saying “slow it down”" sub="US IG tech credit spreads (CITE) and Oracle 5-year CDS" tl={280} sl={211.7} />
      {c10LeftTicks.map((t) => (
        <text key={t} x={392.5} y={yl(t) + 2.6} fontSize={7.5} textAnchor="middle" fill={INK}>{t}</text>
      ))}
      {c10RightTicks.map((t) => (
        <text key={t} x={677.5} y={yr(t) + 2.6} fontSize={7.5} textAnchor="middle" fill={INK}>{t}</text>
      ))}
      <line x1={403} x2={667} y1={751.7} y2={751.7} stroke="#aaa" strokeWidth={1} />
      <path d={lineR(c10Oracle) ?? ""} fill="none" stroke={SKY} strokeWidth={1.4} strokeLinejoin="round" />
      <path d={lineL(c10Tech) ?? ""} fill="none" stroke={NAVY} strokeWidth={1.4} strokeLinejoin="round" />
      {c10XLabels.map((t, i) => (
        <text key={t} x={x(i * 9)} y={764.4} fontSize={7.5} textAnchor="middle" fill={INK}>{t}</text>
      ))}
      <line x1={418} x2={433} y1={598.3} y2={598.3} stroke={NAVY} strokeWidth={2} />
      <text x={434.5} y={600.9} fontSize={6.5} fill={INK} textLength={108} lengthAdjust="spacingAndGlyphs">US IG tech credit spreads (bp, RHS)</text>
      <line x1={560} x2={575} y1={598.3} y2={598.3} stroke={SKY} strokeWidth={2} />
      <text x={576.5} y={600.9} fontSize={6.3} fill={INK} textLength={85} lengthAdjust="spacingAndGlyphs">Oracle 5-year CDS (bp, RHS)</text>
      <Source x={383.3} y={779.3} tl={163.3} text="BofA Global Investment Strategy, Bloomberg" />
      <Brand x={683.3} y={789.3} />
    </g>
  );
}

export default function App() {
  return (
    <svg width={702} height={797} viewBox="0 0 702 797" fontFamily={FONT} style={{ position: "absolute", left: 0, top: 0, background: "#fff" }}>
      <rect width={702} height={797} fill="#fff" />
      <Chart5 />
      <Chart6 />
      <Chart7 />
      <Chart8 />
      <Chart9 />
      <Chart10 />
    </svg>
  );
}
